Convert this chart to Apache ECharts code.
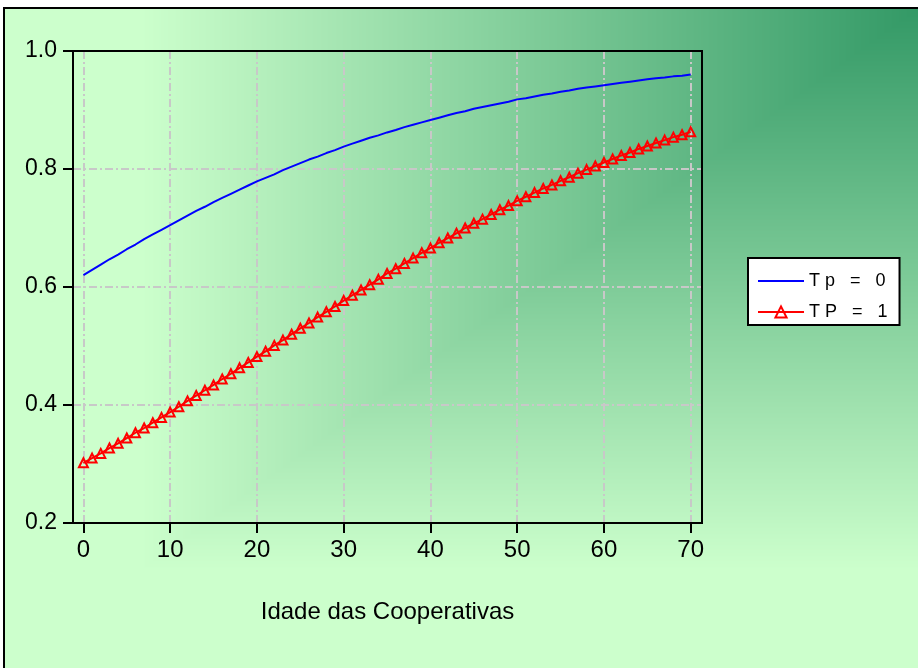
<!DOCTYPE html>
<html><head><meta charset="utf-8">
<script src="https://cdn.jsdelivr.net/npm/echarts@6/dist/echarts.min.js"></script>
<style>html,body{margin:0;padding:0;background:#fff}#c{width:918px;height:668px}</style>
</head><body><div id="c"></div>
<script>
const ages = [];
for (let i = 0; i <= 70; i++) ages.push(i);
const tp0 = [0.620,0.629,0.638,0.647,0.655,0.664,0.672,0.681,0.689,0.697,
  0.705,0.713,0.721,0.729,0.736,0.744,0.751,0.758,0.765,0.772,
  0.779,0.785,0.791,0.798,0.804,0.810,0.816,0.821,0.827,0.832,
  0.838,0.843,0.848,0.853,0.857,0.862,0.866,0.871,0.875,0.879,
  0.883,0.887,0.891,0.895,0.898,0.902,0.905,0.908,0.911,0.914,
  0.918,0.920,0.923,0.926,0.928,0.931,0.933,0.936,0.938,0.940,
  0.942,0.944,0.946,0.948,0.950,0.952,0.954,0.955,0.957,0.958,0.960];
const tp1 = [0.302,0.310,0.318,0.327,0.335,0.344,0.353,0.361,0.370,0.379,
  0.388,0.397,0.407,0.416,0.425,0.434,0.444,0.453,0.463,0.472,
  0.482,0.491,0.501,0.510,0.520,0.530,0.539,0.549,0.558,0.567,
  0.577,0.586,0.595,0.604,0.613,0.623,0.631,0.640,0.649,0.658,
  0.666,0.675,0.683,0.691,0.700,0.708,0.715,0.723,0.731,0.738,
  0.746,0.753,0.760,0.767,0.773,0.780,0.786,0.793,0.799,0.805,
  0.811,0.817,0.823,0.828,0.834,0.839,0.844,0.849,0.854,0.858,0.863];
const xTicks = [0,10,20,30,40,50,60,70];
const seriesNames = ['T p   =   0','T P   =   1'];
const xTitle = 'Idade das Cooperativas';

// background: corner gradient
const W = 918, H = 668;
const cv = document.createElement('canvas');
cv.width = W; cv.height = H;
const ctx = cv.getContext('2d');
const img = ctx.createImageData(W, H);
const dark = [51,153,102], light = [204,255,204];
const fx0 = 4, fy0 = 8, fw = W - fx0, fh = H - fy0;
for (let y = 0; y < H; y++) {
  for (let x = 0; x < W; x++) {
    const k = (y * W + x) * 4;
    let c;
    if (x < fx0 || y < fy0) c = [255,255,255];
    else {
      let t = Math.max((W - x) / fw, (y - fy0) / fh) / 0.85;
      if (t > 1) t = 1;
      c = [0,1,2].map(i => Math.round(dark[i] + (light[i] - dark[i]) * t));
    }
    img.data[k] = c[0]; img.data[k+1] = c[1]; img.data[k+2] = c[2]; img.data[k+3] = 255;
  }
}
ctx.putImageData(img, 0, 0);

const FONT = "'Liberation Sans', Arial, sans-serif";
const G = {left: 73, top: 51, width: 629, height: 472};
const chart = echarts.init(document.getElementById('c'), null, {renderer: 'canvas'});
const gridLine = {show: true, lineStyle: {color: '#c8c8c8', width: 2, type: [8,3,2,3]}};
const blackLine = {show: true, onZero: false, lineStyle: {color: '#000', width: 2}};
chart.setOption({
  backgroundColor: {image: cv, repeat: 'no-repeat'},
  animation: false,
  graphic: [{
    type: 'rect', silent: true, z: 100,
    shape: {x: 4, y: 8, width: 920, height: 670},
    style: {fill: 'none', stroke: '#000', lineWidth: 2}
  }, {
    type: 'rect', silent: true, z: 100,
    shape: {x: G.left, y: G.top, width: G.width, height: G.height},
    style: {fill: 'none', stroke: '#000', lineWidth: 2}
  }],
  grid: {left: G.left, top: G.top, width: G.width, height: G.height, show: false},
  legend: {
    orient: 'vertical', left: 748, top: 258,
    backgroundColor: '#fff', borderColor: '#000', borderWidth: 2,
    padding: [14, 12, 4, 9], itemGap: 13, itemWidth: 46, itemHeight: 14,
    textStyle: {fontFamily: FONT, fontSize: 18, lineHeight: 18, color: '#000'},
    data: [
      {name: seriesNames[0], itemStyle: {color: 'rgba(0,0,0,0)', borderColor: 'rgba(0,0,0,0)', borderWidth: 0}},
      {name: seriesNames[1]}
    ]
  },
  xAxis: {
    type: 'value', min: -1.2, max: 71.3,
    name: xTitle, nameLocation: 'middle', nameGap: 77,
    nameTextStyle: {fontFamily: FONT, fontSize: 24, color: '#000'},
    axisLine: blackLine,
    axisTick: {show: true, inside: false, length: 10, customValues: xTicks, lineStyle: {color: '#000', width: 2}},
    axisLabel: {customValues: xTicks, margin: 15, color: '#000', fontSize: 24, fontFamily: FONT},
    splitLine: gridLine
  },
  yAxis: {
    type: 'value', min: 0.2, max: 1.0, interval: 0.2,
    axisLine: blackLine,
    axisTick: {show: true, inside: false, length: 10, lineStyle: {color: '#000', width: 2}},
    axisLabel: {margin: 16, color: '#000', fontSize: 23, fontFamily: FONT,
      formatter: v => v.toFixed(1)},
    splitLine: gridLine
  },
  series: [
    {name: seriesNames[0], type: 'line', data: ages.map((a, i) => [a, tp0[i]]),
      symbol: 'none', lineStyle: {color: '#0000ff', width: 2}, itemStyle: {color: '#0000ff'}},
    {name: seriesNames[1], type: 'line', data: ages.map((a, i) => [a, tp1[i]]),
      symbol: 'triangle', symbolSize: 9, showAllSymbol: true,
      lineStyle: {color: '#ff0000', width: 2},
      itemStyle: {color: 'rgba(255,255,255,0)', borderColor: '#ff0000', borderWidth: 2}}
  ]
});
</script></body></html>
